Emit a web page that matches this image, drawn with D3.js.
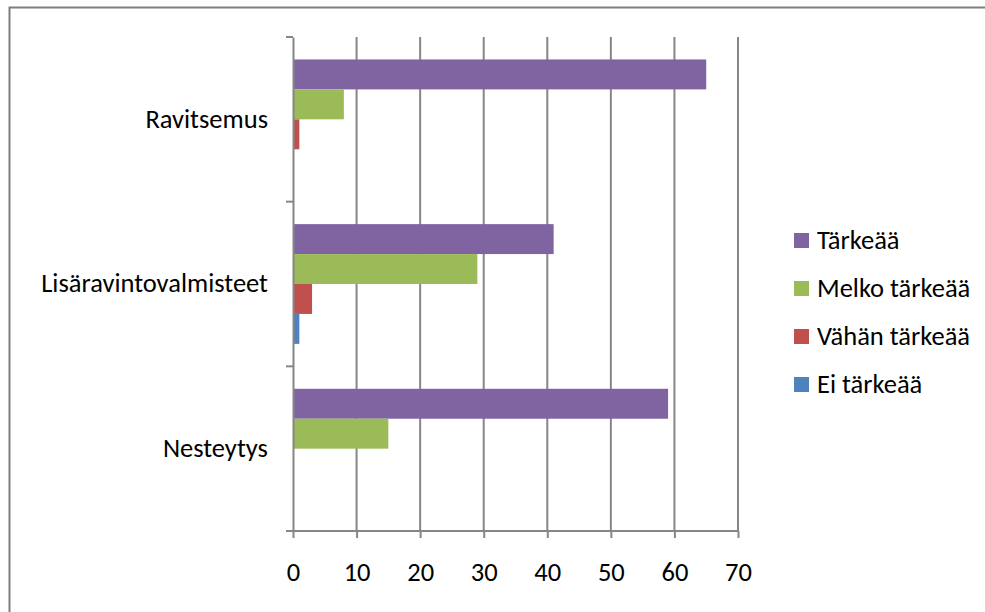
<!DOCTYPE html>
<html>
<head>
<meta charset="utf-8">
<script src="https://cdn.jsdelivr.net/npm/d3@7"></script>
<style>
  html, body { margin: 0; padding: 0; background: #fff; }
  svg { display: block; }
  text { font-family: Carlito, Lato, "Open Sans", sans-serif; fill: #000; }
</style>
</head>
<body>
<svg id="chart" width="985" height="612"></svg>
<script>
// Categories, top to bottom
const categories = ["Ravitsemus", "Lisäravintovalmisteet", "Nesteytys"];
// Series names (legend order) and their colours
const seriesNames = ["Tärkeää", "Melko tärkeää", "Vähän tärkeää", "Ei tärkeää"];
const seriesColors = ["#8064a2", "#9bbb59", "#c0504d", "#4f81bd"];
// Values per series, following the category order
const tarkeaa = [65, 41, 59];
const melkoTarkeaa = [8, 29, 15];
const vahanTarkeaa = [1, 3, 0];
const eiTarkeaa = [0, 1, 0];
const seriesValues = [tarkeaa, melkoTarkeaa, vahanTarkeaa, eiTarkeaa];
// X-axis tick values
const xTicks = [0, 10, 20, 30, 40, 50, 60, 70];

const fontSize = 26.5;
const fontFamily = "Carlito, Lato, 'Open Sans', sans-serif";

const svg = d3.select("#chart");

// Outer chart frame
svg.append("rect")
  .attr("x", 9.5).attr("y", 7.5)
  .attr("width", 1000).attr("height", 700)
  .attr("fill", "none").attr("stroke", "#7f7f7f").attr("stroke-width", 2);

const plot = { left: 293, right: 738, top: 37, bottom: 531 };

const x = d3.scaleLinear().domain([0, 70]).range([plot.left, plot.right]);
const y = d3.scaleBand().domain(categories).range([plot.top, plot.bottom]);
const ySub = d3.scaleBand().domain(seriesNames)
  .range([0, y.bandwidth()]).paddingOuter(0.75).paddingInner(0);

const gridColor = "#868686";

// Vertical gridlines
svg.append("g").selectAll("line").data(xTicks.slice(1)).join("line")
  .attr("x1", d => x(d)).attr("x2", d => x(d))
  .attr("y1", plot.top).attr("y2", plot.bottom)
  .attr("stroke", gridColor).attr("stroke-width", 2);

// Bars
const groups = svg.append("g").selectAll("g").data(categories).join("g")
  .attr("transform", c => `translate(0,${y(c)})`);
groups.selectAll("rect")
  .data((c, ci) => seriesNames.map((s, si) => ({ s, si, v: seriesValues[si][ci] })))
  .join("rect")
  .attr("x", x(0))
  .attr("y", d => ySub(d.s))
  .attr("width", d => x(d.v) - x(0))
  .attr("height", ySub.bandwidth())
  .attr("fill", d => seriesColors[d.si]);

// Category axis (left)
const yAxis = d3.axisLeft(y).tickSize(0).tickPadding(25);
const gy = svg.append("g").attr("transform", `translate(${plot.left},0)`).call(yAxis);
gy.select(".domain").attr("stroke", gridColor).attr("stroke-width", 2);
gy.selectAll("text").attr("font-size", fontSize).attr("font-family", fontFamily);
// Category separator ticks
const catEdges = [plot.top, ...categories.map(c => y(c) + y.bandwidth())];
svg.append("g").selectAll("line").data(catEdges).join("line")
  .attr("x1", plot.left - 7).attr("x2", plot.left)
  .attr("y1", d => d).attr("y2", d => d)
  .attr("stroke", gridColor).attr("stroke-width", 2);

// Value axis (bottom)
const xAxis = d3.axisBottom(x).tickValues(xTicks).tickSizeInner(7).tickSizeOuter(0).tickPadding(24);
const gx = svg.append("g").attr("transform", `translate(0,${plot.bottom})`).call(xAxis);
gx.select(".domain").attr("stroke", gridColor).attr("stroke-width", 2)
  .attr("d", `M${plot.left - 7},0H${plot.right}`);
gx.selectAll(".tick line").attr("stroke", gridColor).attr("stroke-width", 2);
gx.selectAll("text").attr("font-size", fontSize).attr("font-family", fontFamily);

// Legend
const legend = svg.append("g").attr("transform", "translate(794,240)");
const items = legend.selectAll("g").data(seriesNames).join("g")
  .attr("transform", (d, i) => `translate(0,${i * 48})`);
items.append("rect").attr("x", 0).attr("y", -7).attr("width", 15).attr("height", 15)
  .attr("fill", (d, i) => seriesColors[i]);
items.append("text").attr("x", 23).attr("y", 0).attr("dy", "0.35em")
  .attr("font-size", fontSize).attr("font-family", fontFamily).text(d => d);
</script>
</body>
</html>
